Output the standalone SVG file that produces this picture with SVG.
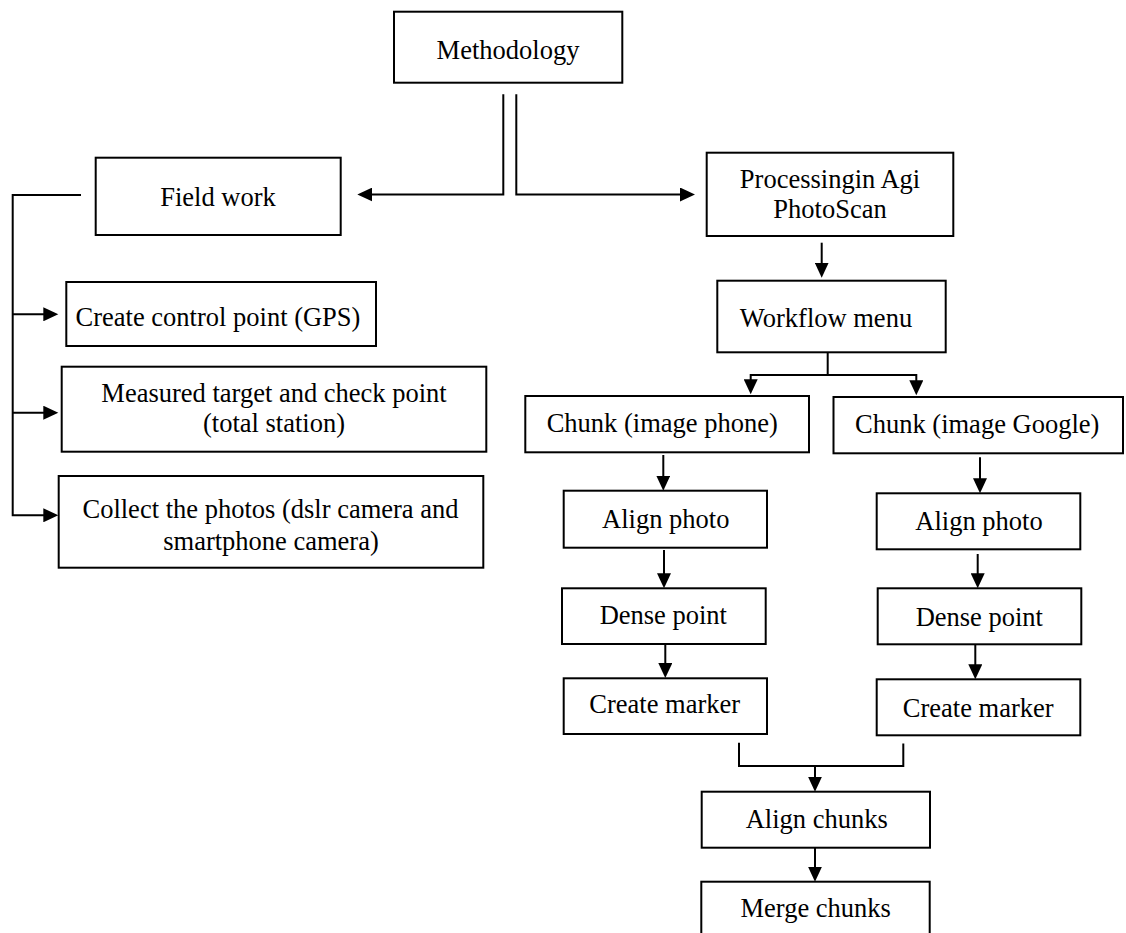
<svg xmlns="http://www.w3.org/2000/svg" width="1126" height="933" viewBox="0 0 1126 933">
<defs>
<marker id="ah" markerUnits="userSpaceOnUse" markerWidth="16" markerHeight="14" viewBox="0 0 16 14" refX="7" refY="7" orient="auto">
<path d="M0,0 L15,7 L0,14 z" fill="#000"/>
</marker>
<style>
.box{fill:#fff;stroke:#000;stroke-width:2}
.t{font-family:"Liberation Serif","Times New Roman",serif;font-size:26.5px;fill:#000;text-anchor:middle}
.c{fill:none;stroke:#000;stroke-width:2}
.a{marker-end:url(#ah)}
</style>
</defs>
<rect width="1126" height="933" fill="#fff"/>
<g id="connectors">
<path class="c a" d="M503.3,94.3 V194.5 H365.3"/>
<path class="c a" d="M516.3,94.3 V194.5 H687"/>
<path class="c a" d="M81,195 H12.7 V515.3 H50.3"/>
<path class="c a" d="M12.7,314.3 H50.3"/>
<path class="c a" d="M12.7,412.7 H50.3"/>
<path class="c a" d="M821.7,242.7 V269.7"/>
<path class="c a" d="M827.7,352.3 V375 H750.7 V386.3"/>
<path class="c a" d="M827.7,375 H916.3 V387.3"/>
<path class="c a" d="M663.3,455 V482.7"/>
<path class="c a" d="M664,550 V580.3"/>
<path class="c a" d="M665.3,641.7 V670"/>
<path class="c a" d="M980,457.3 V485.3"/>
<path class="c a" d="M977.7,554 V580.3"/>
<path class="c a" d="M975.3,644.3 V671.3"/>
<path class="c" d="M739,742.7 V766 H903.3 V743.5"/>
<path class="c a" d="M815,766 V783.7"/>
<path class="c a" d="M815,847.7 V873.7"/>
</g>
<g id="methodology"><rect class="box" x="394" y="11.7" width="228.3" height="71"/><text class="t" x="508" y="59.3">Methodology</text></g>
<g id="fieldwork"><rect class="box" x="95.7" y="157.7" width="245" height="77.3"/><text class="t" x="218" y="206">Field work</text></g>
<g id="gps"><rect class="box" x="66.3" y="282" width="309.7" height="64"/><text class="t" x="218" y="326">Create control point (GPS)</text></g>
<g id="measured"><rect class="box" x="61.7" y="366.7" width="424.6" height="85"/><text class="t" x="274" y="401.7">Measured target and check point</text><text class="t" x="274" y="431.7">(total station)</text></g>
<g id="collect"><rect class="box" x="58.7" y="476" width="424.6" height="91.7"/><text class="t" x="270.5" y="517.7">Collect the photos (dslr camera and</text><text class="t" x="271" y="550">smartphone camera)</text></g>
<g id="processing"><rect class="box" x="706.7" y="152.7" width="246.6" height="83.3"/><text class="t" x="830" y="187.7">Processingin Agi</text><text class="t" x="830" y="217.7">PhotoScan</text></g>
<g id="workflow"><rect class="box" x="717.3" y="280.7" width="228.4" height="71.6"/><text class="t" x="826" y="326.7">Workflow menu</text></g>
<g id="chunkphone"><rect class="box" x="525.3" y="396" width="283.7" height="56.3"/><text class="t" x="662.2" y="432.3">Chunk (image phone)</text></g>
<g id="chunkgoogle"><rect class="box" x="833.5" y="397" width="289.5" height="56.3"/><text class="t" x="977.2" y="433">Chunk (image Google)</text></g>
<g id="alignL"><rect class="box" x="563.7" y="490.7" width="203.3" height="57"/><text class="t" x="665.8" y="528.3">Align photo</text></g>
<g id="denseL"><rect class="box" x="562" y="588.3" width="203.7" height="55.7"/><text class="t" x="663.3" y="624">Dense point</text></g>
<g id="markerL"><rect class="box" x="563.7" y="678.3" width="203.3" height="55.7"/><text class="t" x="664.7" y="713.3">Create marker</text></g>
<g id="alignR"><rect class="box" x="876.7" y="493.3" width="203.6" height="56"/><text class="t" x="979" y="530">Align photo</text></g>
<g id="denseR"><rect class="box" x="877.7" y="588.3" width="203.6" height="56"/><text class="t" x="979.3" y="626">Dense point</text></g>
<g id="markerR"><rect class="box" x="876.7" y="679.3" width="203.6" height="56"/><text class="t" x="978.2" y="716.7">Create marker</text></g>
<g id="alignchunks"><rect class="box" x="701.7" y="791.7" width="228.3" height="56"/><text class="t" x="816.7" y="828.3">Align chunks</text></g>
<g id="mergechunks"><rect class="box" x="701.3" y="881.7" width="228.4" height="60"/><text class="t" x="815.7" y="917.3">Merge chunks</text></g>
</svg>
